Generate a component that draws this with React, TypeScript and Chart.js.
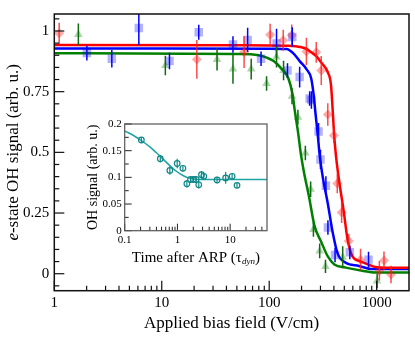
import React, { useEffect, useRef } from 'react';
import { Chart, registerables } from 'chart.js';

Chart.register(...registerables);

const FONT = '"Liberation Serif", "Times New Roman", serif';

// ---------- main chart data ----------
const xMajor = [1, 10, 100, 1000];
const yMajor = [0, 0.25, 0.5, 0.75, 1];

const redX = [1.11, 21.2, 58.4, 102, 135, 162, 222, 274, 305, 351, 400, 430, 472, 550, 708, 1060, 1170, 1360];
const redY = [0.991, 0.883, 0.913, 0.984, 0.962, 0.982, 0.916, 0.912, 0.837, 0.656, 0.569, 0.372, 0.252, 0.135, 0.058, 0.012, 0.054, -0.003];
const redErr = [0.043, 0.08, 0.065, 0.046, 0.043, 0.045, 0.056, 0.043, 0.06, 0.046, 0.03, 0.04, 0.043, 0.03, 0.045, 0.04, 0.038, 0.036];

const blueX = [2.01, 3.43, 6.12, 11.8, 22.1, 46, 63, 84, 117, 148, 164, 192, 238, 247, 288, 300, 337, 352, 410, 563, 840];
const blueY = [0.909, 0.886, 1.012, 0.876, 0.995, 0.944, 0.963, 0.886, 0.949, 0.837, 0.975, 0.81, 0.722, 0.716, 0.586, 0.471, 0.362, 0.19, 0.077, 0.088, 0.058];
const blueErr = [0.031, 0.036, 0.07, 0.034, 0.031, 0.034, 0.05, 0.03, 0.06, 0.03, 0.04, 0.043, 0.03, 0.036, 0.035, 0.04, 0.04, 0.03, 0.03, 0.028, 0.032];

const greenX = [1.675, 10.8, 32.7, 46, 68, 94.5, 117, 136, 163, 185, 217, 243, 258, 295, 334, 483, 1010];
const greenY = [0.986, 0.858, 0.883, 0.843, 0.843, 0.784, 0.893, 0.837, 0.731, 0.645, 0.497, 0.348, 0.182, 0.094, 0.03, 0.068, -0.03];
const greenErr = [0.045, 0.04, 0.046, 0.06, 0.043, 0.03, 0.043, 0.04, 0.033, 0.03, 0.03, 0.032, 0.03, 0.03, 0.027, 0.045, 0.03];

const redCurveX = [1, 50, 150, 200, 222, 250, 274, 305, 351, 376, 390, 403, 418, 448, 492, 535, 595, 708, 973, 1200, 2000];
const redCurveY = [0.942, 0.941, 0.939, 0.933, 0.926, 0.91, 0.896, 0.87, 0.83, 0.777, 0.672, 0.566, 0.487, 0.381, 0.262, 0.144, 0.071, 0.051, 0.028, 0.025, 0.025];

const blueCurveX = [1, 100, 145, 167, 192, 222, 246, 259, 270, 284, 294, 316, 351, 390, 433, 516, 684, 907, 2000];
const blueCurveY = [0.928, 0.927, 0.926, 0.909, 0.876, 0.843, 0.804, 0.738, 0.658, 0.566, 0.494, 0.395, 0.289, 0.17, 0.084, 0.045, 0.032, 0.019, 0.019];

const greenCurveX = [1, 50, 80, 95, 110, 131, 151, 165, 173, 186, 197, 210, 235, 264, 305, 351, 404, 516, 734, 973, 2000];
const greenCurveY = [0.908, 0.905, 0.9, 0.89, 0.876, 0.843, 0.804, 0.738, 0.672, 0.579, 0.494, 0.421, 0.316, 0.197, 0.131, 0.071, 0.038, 0.025, 0.012, 0.005, 0.005];

// ---------- inset data ----------
const insetXMajor = [0.1, 1, 10];
const insetYMajor = [0, 0.05, 0.1, 0.15, 0.2];

const insetT = [0.207, 0.473, 0.718, 0.99, 1.27, 1.51, 1.77, 2.01, 2.26, 2.54, 2.86, 3.16, 5.65, 8.22, 10.9, 13.5];
const insetV = [0.170, 0.135, 0.113, 0.126, 0.117, 0.088, 0.096, 0.096, 0.096, 0.086, 0.105, 0.102, 0.095, 0.099, 0.102, 0.085];
const insetErr = [0.005, 0.007, 0.008, 0.009, 0.006, 0.007, 0.005, 0.005, 0.006, 0.007, 0.007, 0.005, 0.006, 0.011, 0.006, 0.005];

const insetCurveT = [0.1, 0.15, 0.2, 0.3, 0.4, 0.5, 0.7, 1, 1.3, 1.6, 2, 3, 5, 10, 20, 50];
const insetCurveV = [0.187, 0.178, 0.17, 0.157, 0.146, 0.137, 0.123, 0.11, 0.103, 0.099, 0.097, 0.096, 0.096, 0.096, 0.096, 0.096];

const pts = (xs: number[], ys: number[]) => xs.map((x, i) => ({ x, y: ys[i] }));

function logMinors(decades: number[], max: number) {
  const out: number[] = [];
  decades.forEach((d) => {
    for (let k = 2; k <= 9; k++) if (d * k < max) out.push(d * k);
  });
  return out;
}

function stepMinors(from: number, to: number, step: number, majors: number[]) {
  const out: number[] = [];
  const n = Math.round((to - from) / step);
  for (let i = 0; i <= n; i++) {
    const v = +(from + i * step).toFixed(6);
    if (!majors.some((m) => Math.abs(m - v) < 1e-9)) out.push(v);
  }
  return out;
}

const errorBarPlugin = {
  id: 'errorBars',
  afterDatasetsDraw(chart: any) {
    const { ctx, chartArea: a, scales } = chart;
    ctx.save();
    ctx.beginPath();
    ctx.rect(a.left, a.top, a.right - a.left, a.bottom - a.top);
    ctx.clip();
    chart.data.datasets.forEach((ds: any, i: number) => {
      if (!ds.errs) return;
      const meta = chart.getDatasetMeta(i);
      ctx.strokeStyle = ds.errColor;
      ctx.lineWidth = ds.errWidth || 1.5;
      meta.data.forEach((pt: any, j: number) => {
        const d = ds.data[j];
        const e = ds.errs[j];
        const y1 = scales.y.getPixelForValue(d.y - e);
        const y2 = scales.y.getPixelForValue(d.y + e);
        ctx.beginPath();
        ctx.moveTo(pt.x, y1);
        ctx.lineTo(pt.x, y2);
        ctx.stroke();
      });
    });
    ctx.restore();
  },
};

function makeFramePlugin(cfg: any) {
  return {
    id: 'frame_' + cfg.name,
    beforeDatasetsDraw(chart: any) {
      if (!cfg.fill) return;
      const { ctx, chartArea: a } = chart;
      ctx.save();
      ctx.fillStyle = cfg.fill;
      ctx.fillRect(a.left, a.top, a.right - a.left, a.bottom - a.top);
      ctx.restore();
    },
    afterDraw(chart: any) {
      const { ctx, chartArea: a, scales } = chart;
      ctx.save();
      ctx.strokeStyle = cfg.tickColor;
      ctx.lineWidth = cfg.tickWidth;
      const tick = (x1: number, y1: number, x2: number, y2: number) => {
        ctx.beginPath();
        ctx.moveTo(x1, y1);
        ctx.lineTo(x2, y2);
        ctx.stroke();
      };
      cfg.xMajor.forEach((v: number) => {
        const x = scales.x.getPixelForValue(v);
        tick(x, a.bottom, x, a.bottom - cfg.majorLen);
      });
      cfg.xMinor.forEach((v: number) => {
        const x = scales.x.getPixelForValue(v);
        tick(x, a.bottom, x, a.bottom - cfg.minorLen);
      });
      cfg.yMajor.forEach((v: number) => {
        const y = scales.y.getPixelForValue(v);
        tick(a.left, y, a.left + cfg.majorLen, y);
      });
      cfg.yMinor.forEach((v: number) => {
        const y = scales.y.getPixelForValue(v);
        if (y > a.top && y < a.bottom) tick(a.left, y, a.left + cfg.minorLen, y);
      });
      ctx.strokeStyle = cfg.frameColor;
      ctx.lineWidth = cfg.frameWidth;
      ctx.strokeRect(a.left, a.top, a.right - a.left, a.bottom - a.top);
      if (cfg.drawTitles) cfg.drawTitles(ctx, a);
      ctx.restore();
    },
  };
}

function drawMainTitles(ctx: CanvasRenderingContext2D, a: any) {
  ctx.fillStyle = '#000';
  // x title
  ctx.font = `17px ${FONT}`;
  ctx.textAlign = 'center';
  ctx.textBaseline = 'middle';
  ctx.fillText('Applied bias field (V/cm)', (a.left + a.right) / 2, a.bottom + 33);
  // y title with italic "e"
  ctx.save();
  ctx.translate(a.left - 41, (a.top + a.bottom) / 2);
  ctx.rotate(-Math.PI / 2);
  ctx.textAlign = 'left';
  ctx.textBaseline = 'middle';
  const p1 = 'e';
  const p2 = '-state OH signal (arb. u.)';
  ctx.font = `italic 17px ${FONT}`;
  const w1 = ctx.measureText(p1).width;
  ctx.font = `17px ${FONT}`;
  const w2 = ctx.measureText(p2).width;
  const start = -(w1 + w2) / 2;
  ctx.font = `italic 17px ${FONT}`;
  ctx.fillText(p1, start, 0);
  ctx.font = `17px ${FONT}`;
  ctx.fillText(p2, start + w1, 0);
  ctx.restore();
}

function drawInsetTitles(ctx: CanvasRenderingContext2D, a: any) {
  ctx.fillStyle = '#000';
  ctx.textBaseline = 'alphabetic';
  ctx.textAlign = 'left';
  const s1 = 'Time after ARP (\u03C4';
  const s2 = 'dyn';
  const s3 = ')';
  ctx.font = `15px ${FONT}`;
  const w1 = ctx.measureText(s1).width;
  const w3 = ctx.measureText(s3).width;
  ctx.font = `italic 9px ${FONT}`;
  const w2 = ctx.measureText(s2).width;
  const total = w1 + w2 + w3;
  const cx = (a.left + a.right) / 2;
  const base = a.bottom + 31;
  let x = cx - total / 2;
  ctx.font = `15px ${FONT}`;
  ctx.fillText(s1, x, base);
  x += w1;
  ctx.font = `italic 9px ${FONT}`;
  ctx.fillText(s2, x, base + 2);
  x += w2;
  ctx.font = `15px ${FONT}`;
  ctx.fillText(s3, x, base);

  ctx.save();
  ctx.translate(a.left - 31, (a.top + a.bottom) / 2);
  ctx.rotate(-Math.PI / 2);
  ctx.textAlign = 'center';
  ctx.textBaseline = 'middle';
  ctx.font = `14px ${FONT}`;
  ctx.fillText('OH signal (arb. u.)', 0, 0);
  ctx.restore();
}

export default function App() {
  const mainRef = useRef<HTMLCanvasElement>(null);
  const insetRef = useRef<HTMLCanvasElement>(null);

  useEffect(() => {
    const mainFrame = makeFramePlugin({
      name: 'main',
      xMajor,
      xMinor: logMinors([1, 10, 100, 1000], 2000),
      yMajor,
      yMinor: stepMinors(-0.05, 1.05, 0.05, yMajor),
      majorLen: 10,
      minorLen: 5,
      tickColor: '#111',
      tickWidth: 1.2,
      frameColor: '#111',
      frameWidth: 1.5,
      drawTitles: drawMainTitles,
    });

    const main = new Chart(mainRef.current!, {
      type: 'scatter',
      data: {
        datasets: [
          {
            type: 'scatter',
            data: pts(redX, redY),
            pointStyle: 'rectRot',
            pointRadius: 5,
            backgroundColor: 'rgba(255,0,0,0.33)',
            borderWidth: 0,
            errs: redErr,
            errColor: 'rgba(255,30,30,0.8)',
          } as any,
          {
            type: 'scatter',
            data: pts(blueX, blueY),
            pointStyle: 'rect',
            pointRadius: 6,
            backgroundColor: 'rgba(0,0,255,0.3)',
            borderWidth: 0,
            errs: blueErr,
            errColor: '#0000ff',
          } as any,
          {
            type: 'scatter',
            data: pts(greenX, greenY),
            pointStyle: 'triangle',
            pointRadius: 5,
            backgroundColor: 'rgba(0,128,0,0.33)',
            borderWidth: 0,
            errs: greenErr,
            errColor: '#106a10',
          } as any,
          {
            type: 'line',
            data: pts(redCurveX, redCurveY),
            borderColor: '#ff0000',
            borderWidth: 2.5,
            pointRadius: 0,
            cubicInterpolationMode: 'monotone',
            fill: false,
          },
          {
            type: 'line',
            data: pts(blueCurveX, blueCurveY),
            borderColor: '#0000ff',
            borderWidth: 2.5,
            pointRadius: 0,
            cubicInterpolationMode: 'monotone',
            fill: false,
          },
          {
            type: 'line',
            data: pts(greenCurveX, greenCurveY),
            borderColor: '#008000',
            borderWidth: 2.5,
            pointRadius: 0,
            cubicInterpolationMode: 'monotone',
            fill: false,
          },
        ],
      },
      options: {
        animation: false,
        responsive: false,
        maintainAspectRatio: false,
        layout: { padding: { top: 2, right: 1.3, left: 0, bottom: 0 } },
        plugins: { legend: { display: false }, tooltip: { enabled: false } },
        scales: {
          x: {
            type: 'logarithmic',
            min: 1,
            max: 2000,
            grid: { display: false, drawTicks: false },
            border: { display: false },
            afterBuildTicks: (s: any) => {
              s.ticks = xMajor.map((v) => ({ value: v }));
            },
            afterFit: (s: any) => {
              s.height = 51.3;
            },
            ticks: {
              font: { family: FONT, size: 15 },
              color: '#000',
              padding: 3,
              autoSkip: false,
              maxRotation: 0,
              callback: (v: any) => String(v),
            },
          },
          y: {
            type: 'linear',
            min: -0.07,
            max: 1.07,
            grid: { display: false, drawTicks: false },
            border: { display: false },
            afterBuildTicks: (s: any) => {
              s.ticks = yMajor.map((v) => ({ value: v }));
            },
            afterFit: (s: any) => {
              s.width = 54.3;
            },
            ticks: {
              font: { family: FONT, size: 15 },
              color: '#000',
              padding: 5,
              callback: (v: any) => String(v),
            },
          },
        },
      } as any,
      plugins: [errorBarPlugin, mainFrame],
    });

    const insetFrame = makeFramePlugin({
      name: 'inset',
      fill: '#ffffff',
      xMajor: insetXMajor,
      xMinor: logMinors([0.1, 1, 10], 50),
      yMajor: insetYMajor,
      yMinor: stepMinors(0.025, 0.175, 0.05, insetYMajor),
      majorLen: 7,
      minorLen: 4,
      tickColor: '#222',
      tickWidth: 1,
      frameColor: '#555',
      frameWidth: 1.2,
      drawTitles: drawInsetTitles,
    });

    const inset = new Chart(insetRef.current!, {
      type: 'scatter',
      data: {
        datasets: [
          {
            type: 'scatter',
            data: pts(insetT, insetV),
            pointStyle: 'circle',
            pointRadius: 2.8,
            backgroundColor: 'rgba(0,0,0,0)',
            borderColor: '#108888',
            borderWidth: 1.2,
            errs: insetErr,
            errColor: '#108888',
            errWidth: 1.2,
          } as any,
          {
            type: 'line',
            data: pts(insetCurveT, insetCurveV),
            borderColor: '#20a4a4',
            borderWidth: 1.5,
            pointRadius: 0,
            cubicInterpolationMode: 'monotone',
            fill: false,
          },
        ],
      },
      options: {
        animation: false,
        responsive: false,
        maintainAspectRatio: false,
        layout: { padding: { top: 12, right: 8, left: 0, bottom: 0 } },
        plugins: { legend: { display: false }, tooltip: { enabled: false } },
        scales: {
          x: {
            type: 'logarithmic',
            min: 0.1,
            max: 50,
            grid: { display: false, drawTicks: false },
            border: { display: false },
            afterBuildTicks: (s: any) => {
              s.ticks = insetXMajor.map((v) => ({ value: v }));
            },
            afterFit: (s: any) => {
              s.height = 41.3;
            },
            ticks: {
              font: { family: FONT, size: 11 },
              color: '#000',
              padding: 3,
              autoSkip: false,
              maxRotation: 0,
              callback: (v: any) => String(v),
            },
          },
          y: {
            type: 'linear',
            min: 0,
            max: 0.2,
            grid: { display: false, drawTicks: false },
            border: { display: false },
            afterBuildTicks: (s: any) => {
              s.ticks = insetYMajor.map((v) => ({ value: v }));
            },
            afterFit: (s: any) => {
              s.width = 44.7;
            },
            ticks: {
              font: { family: FONT, size: 11 },
              color: '#000',
              padding: 3,
              callback: (v: any) => String(v),
            },
          },
        },
      } as any,
      plugins: [errorBarPlugin, insetFrame],
    });

    return () => {
      main.destroy();
      inset.destroy();
    };
  }, []);

  return (
    <div style={{ position: 'absolute', left: 0, top: 0, width: 415, height: 342, background: '#fff' }}>
      <canvas
        ref={mainRef}
        width={415}
        height={342}
        style={{ position: 'absolute', left: 0, top: 0, display: 'block' }}
      />
      <canvas
        ref={insetRef}
        width={195}
        height={160}
        style={{ position: 'absolute', left: 80, top: 112, display: 'block' }}
      />
    </div>
  );
}
